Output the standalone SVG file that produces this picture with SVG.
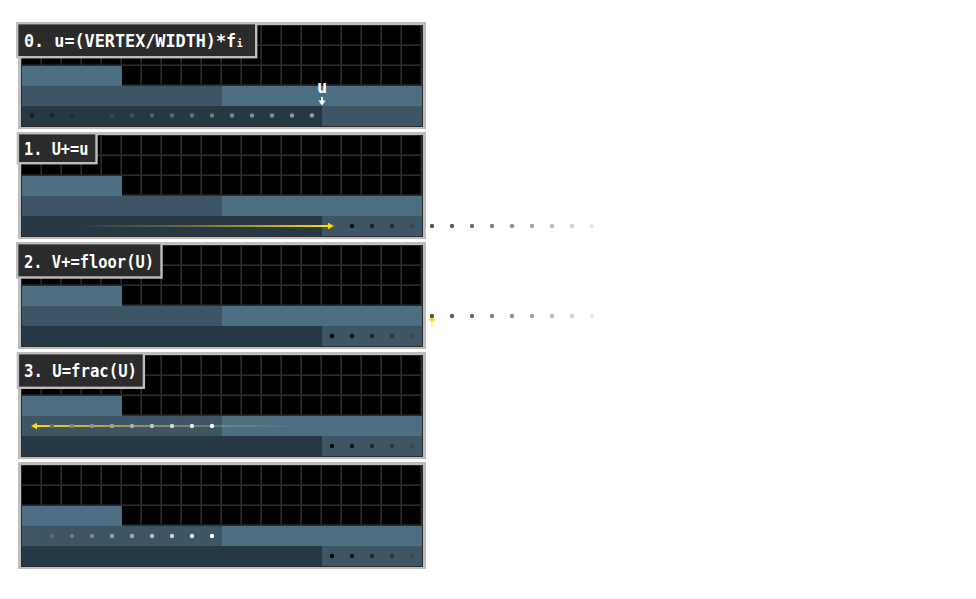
<svg xmlns="http://www.w3.org/2000/svg" width="976" height="599" viewBox="0 0 976 599">
<style>
.frame{fill:#bdbdbd}
.border{fill:#2b2b2b}
.grid{fill:url(#grid)}
.b1{fill:#4b6f80}
.b2{fill:#3d5564}
.b3{fill:#263844}
.lblbox{fill:#2b2b2b;stroke:#bdbdbd;stroke-width:2.4}
.lbl{font-family:"DejaVu Sans Mono","Liberation Mono",monospace;font-weight:bold;font-size:18px;fill:#ffffff}
</style>
<defs>
<pattern id="grid" x="22" y="4" width="20" height="20" patternUnits="userSpaceOnUse">
<rect width="20" height="20" fill="#2b2b2b"/>
<rect width="18.4" height="18.4" fill="#000"/>
</pattern>
<linearGradient id="g1" gradientUnits="userSpaceOnUse" x1="80" y1="0" x2="325" y2="0">
<stop offset="0" stop-color="#ffd700" stop-opacity="0"/>
<stop offset="0.35" stop-color="#c8a830" stop-opacity="0.35"/>
<stop offset="1" stop-color="#ffd800" stop-opacity="1"/>
</linearGradient>
<linearGradient id="g3" gradientUnits="userSpaceOnUse" x1="36" y1="0" x2="300" y2="0">
<stop offset="0" stop-color="#ffd800" stop-opacity="1"/>
<stop offset="0.35" stop-color="#d8c060" stop-opacity="0.6"/>
<stop offset="1" stop-color="#c8c8c8" stop-opacity="0"/>
</linearGradient>
<linearGradient id="g2" gradientUnits="userSpaceOnUse" x1="0" y1="318" x2="0" y2="328">
<stop offset="0" stop-color="#ffd800" stop-opacity="1"/>
<stop offset="1" stop-color="#ffd800" stop-opacity="0"/>
</linearGradient>
</defs>

<g id="panel0" transform="translate(0,22)">
<rect class="frame" x="18" y="0" width="408" height="107"/>
<rect class="border" x="21" y="3" width="402" height="102"/>
<rect class="grid" x="22" y="4" width="400" height="100"/>
<rect class="b1" x="22" y="44" width="100" height="20"/>
<rect class="b2" x="22" y="64" width="200" height="20"/>
<rect class="b1" x="222" y="64" width="200" height="20"/>
<rect class="b3" x="22" y="84" width="300" height="20"/>
<rect class="b2" x="322" y="84" width="100" height="20"/>
<g>
<circle cx="32" cy="93.5" r="2.2" fill="#141c22"/>
<circle cx="52" cy="93.5" r="2.2" fill="#1b252c"/>
<circle cx="72" cy="93.5" r="2.2" fill="#222d35"/>
<circle cx="92" cy="93.5" r="2.2" fill="#2e3a43"/>
<circle cx="112" cy="93.5" r="2.2" fill="#3c464e"/>
<circle cx="132" cy="93.5" r="2.2" fill="#4a5158"/>
<circle cx="152" cy="93.5" r="2.2" fill="#575d62"/>
<circle cx="172" cy="93.5" r="2.2" fill="#63686c"/>
<circle cx="192" cy="93.5" r="2.2" fill="#6e7275"/>
<circle cx="212" cy="93.5" r="2.2" fill="#787b7e"/>
<circle cx="232" cy="93.5" r="2.2" fill="#808283"/>
<circle cx="252" cy="93.5" r="2.2" fill="#878888"/>
<circle cx="272" cy="93.5" r="2.2" fill="#8d8d8d"/>
<circle cx="292" cy="93.5" r="2.2" fill="#939393"/>
<circle cx="312" cy="93.5" r="2.2" fill="#9c9c9c"/>
</g>
<rect class="lblbox" x="17.2" y="1.2" width="239" height="34"/>
<text class="lbl" x="24" y="24.7" style="font-size:16.8px">0. u=(VERTEX/WIDTH)*f<tspan dx="0.5" style="font-size:10px">i</tspan></text>
<text class="lbl" x="322" y="70.7" text-anchor="middle" style="font-size:17px">u</text>
<rect x="321" y="75" width="2" height="4.5" fill="#fff"/>
<polygon points="318.5,78.5 325.5,78.5 322,83.5" fill="#fff"/>
</g>

<g id="panel1" transform="translate(0,132)">
<rect class="frame" x="18" y="0" width="408" height="107"/>
<rect class="border" x="21" y="3" width="402" height="102"/>
<rect class="grid" x="22" y="4" width="400" height="100"/>
<rect class="b1" x="22" y="44" width="100" height="20"/>
<rect class="b2" x="22" y="64" width="200" height="20"/>
<rect class="b1" x="222" y="64" width="200" height="20"/>
<rect class="b3" x="22" y="84" width="300" height="20"/>
<rect class="b2" x="322" y="84" width="100" height="20"/>
<rect class="lblbox" x="17.9" y="1.2" width="78.6" height="30"/>
<text class="lbl" x="24" y="23" textLength="64.5" lengthAdjust="spacingAndGlyphs">1. U+=u</text>
</g>

<g id="panel2" transform="translate(0,242)">
<rect class="frame" x="18" y="0" width="408" height="107"/>
<rect class="border" x="21" y="3" width="402" height="102"/>
<rect class="grid" x="22" y="4" width="400" height="100"/>
<rect class="b1" x="22" y="44" width="100" height="20"/>
<rect class="b2" x="22" y="64" width="200" height="20"/>
<rect class="b1" x="222" y="64" width="200" height="20"/>
<rect class="b3" x="22" y="84" width="300" height="20"/>
<rect class="b2" x="322" y="84" width="100" height="20"/>
<g>
<circle cx="332" cy="94" r="2.2" fill="#050505"/>
<circle cx="352" cy="94" r="2.2" fill="#151515"/>
<circle cx="372" cy="94" r="2.2" fill="#252525"/>
<circle cx="392" cy="94" r="2.2" fill="#353535"/>
<circle cx="412" cy="94" r="2.2" fill="#464646"/>
</g>
<rect class="lblbox" x="17.2" y="1.2" width="144.3" height="34.3"/>
<text class="lbl" x="24" y="25.7" textLength="130" lengthAdjust="spacingAndGlyphs">2. V+=floor(U)</text>
</g>

<g id="panel3" transform="translate(0,352)">
<rect class="frame" x="18" y="0" width="408" height="107"/>
<rect class="border" x="21" y="3" width="402" height="102"/>
<rect class="grid" x="22" y="4" width="400" height="100"/>
<rect class="b1" x="22" y="44" width="100" height="20"/>
<rect class="b2" x="22" y="64" width="200" height="20"/>
<rect class="b1" x="222" y="64" width="200" height="20"/>
<rect class="b3" x="22" y="84" width="300" height="20"/>
<rect class="b2" x="322" y="84" width="100" height="20"/>
<g>
<circle cx="332" cy="94" r="2.2" fill="#050505"/>
<circle cx="352" cy="94" r="2.2" fill="#151515"/>
<circle cx="372" cy="94" r="2.2" fill="#252525"/>
<circle cx="392" cy="94" r="2.2" fill="#353535"/>
<circle cx="412" cy="94" r="2.2" fill="#464646"/>
</g>
<rect class="lblbox" x="17.9" y="1.2" width="126" height="34.6"/>
<text class="lbl" x="24" y="25.3" textLength="113" lengthAdjust="spacingAndGlyphs">3. U=frac(U)</text>
</g>

<g id="panel4" transform="translate(0,462)">
<rect class="frame" x="18" y="0" width="408" height="107"/>
<rect class="border" x="21" y="3" width="402" height="102"/>
<rect class="grid" x="22" y="4" width="400" height="100"/>
<rect class="b1" x="22" y="44" width="100" height="20"/>
<rect class="b2" x="22" y="64" width="200" height="20"/>
<rect class="b1" x="222" y="64" width="200" height="20"/>
<rect class="b3" x="22" y="84" width="300" height="20"/>
<rect class="b2" x="322" y="84" width="100" height="20"/>
<g>
<circle cx="32" cy="74" r="2.2" fill="#555"/>
<circle cx="52" cy="74" r="2.2" fill="#666"/>
<circle cx="72" cy="74" r="2.2" fill="#777"/>
<circle cx="92" cy="74" r="2.2" fill="#888"/>
<circle cx="112" cy="74" r="2.2" fill="#999"/>
<circle cx="132" cy="74" r="2.2" fill="#aaa"/>
<circle cx="152" cy="74" r="2.2" fill="#bbb"/>
<circle cx="172" cy="74" r="2.2" fill="#d0d0d0"/>
<circle cx="192" cy="74" r="2.2" fill="#e6e6e6"/>
<circle cx="212" cy="74" r="2.2" fill="#fff"/>
</g>
<g>
<circle cx="332" cy="94" r="2.2" fill="#050505"/>
<circle cx="352" cy="94" r="2.2" fill="#151515"/>
<circle cx="372" cy="94" r="2.2" fill="#252525"/>
<circle cx="392" cy="94" r="2.2" fill="#353535"/>
<circle cx="412" cy="94" r="2.2" fill="#464646"/>
</g>
</g>

<g id="connectors">
<line x1="80" y1="226" x2="329" y2="226" stroke="url(#g1)" stroke-width="2"/>
<polygon points="328,222.8 334,226 328,229.2" fill="#ffd800"/>
<line x1="36" y1="426" x2="300" y2="426" stroke="url(#g3)" stroke-width="2"/>
<polygon points="31,426 37,422.8 37,429.2" fill="#ffd800"/>
<line x1="432" y1="318" x2="432" y2="329" stroke="url(#g2)" stroke-width="2"/>
<polygon points="432,315 428.8,320.5 435.2,320.5" fill="#ffd800"/>
</g>

<g id="dots-moving">
<circle cx="352" cy="226" r="2.2" fill="#0d0d0d"/>
<circle cx="372" cy="226" r="2.2" fill="#1c1c1c"/>
<circle cx="392" cy="226" r="2.2" fill="#2e2e2e"/>
<circle cx="412" cy="226" r="2.2" fill="#444"/>
<circle cx="432" cy="226" r="2.2" fill="#555"/>
<circle cx="452" cy="226" r="2.2" fill="#5e5e5e"/>
<circle cx="472" cy="226" r="2.2" fill="#6c6c6c"/>
<circle cx="492" cy="226" r="2.2" fill="#808080"/>
<circle cx="512" cy="226" r="2.2" fill="#8f8f8f"/>
<circle cx="532" cy="226" r="2.2" fill="#a2a2a2"/>
<circle cx="552" cy="226" r="2.2" fill="#b8b8b8"/>
<circle cx="572" cy="226" r="2.2" fill="#d0d0d0"/>
<circle cx="592" cy="226" r="2.2" fill="#e8e8e8"/>
<circle cx="432" cy="316" r="2.2" fill="#555"/>
<circle cx="452" cy="316" r="2.2" fill="#5e5e5e"/>
<circle cx="472" cy="316" r="2.2" fill="#6c6c6c"/>
<circle cx="492" cy="316" r="2.2" fill="#808080"/>
<circle cx="512" cy="316" r="2.2" fill="#8f8f8f"/>
<circle cx="532" cy="316" r="2.2" fill="#a2a2a2"/>
<circle cx="552" cy="316" r="2.2" fill="#b8b8b8"/>
<circle cx="572" cy="316" r="2.2" fill="#d0d0d0"/>
<circle cx="592" cy="316" r="2.2" fill="#e8e8e8"/>
<circle cx="52" cy="426" r="2.2" fill="#707070"/>
<circle cx="72" cy="426" r="2.2" fill="#808080"/>
<circle cx="92" cy="426" r="2.2" fill="#909090"/>
<circle cx="112" cy="426" r="2.2" fill="#a0a0a0"/>
<circle cx="132" cy="426" r="2.2" fill="#b0b0b0"/>
<circle cx="152" cy="426" r="2.2" fill="#c4c4c4"/>
<circle cx="172" cy="426" r="2.2" fill="#d6d6d6"/>
<circle cx="192" cy="426" r="2.2" fill="#e8e8e8"/>
<circle cx="212" cy="426" r="2.2" fill="#fff"/>
</g>
</svg>
